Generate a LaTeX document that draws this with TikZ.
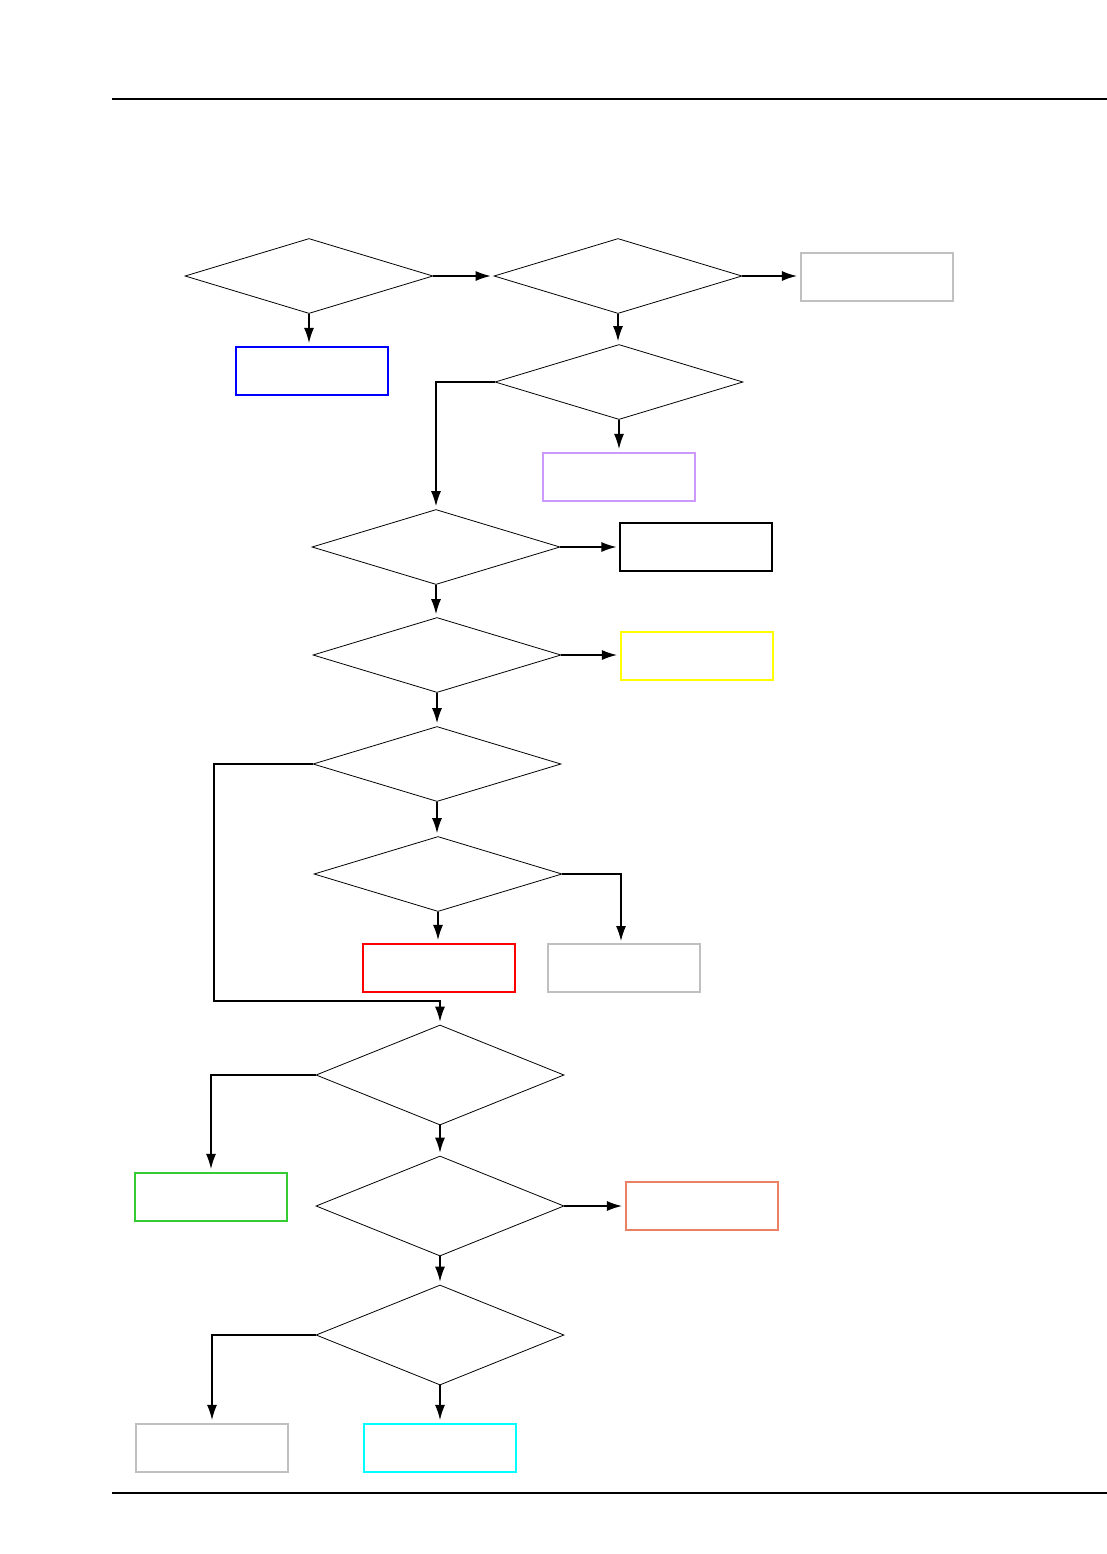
\documentclass[tikz,border=0pt]{standalone}
\usetikzlibrary{shapes.geometric,arrows.meta}
\definecolor{cblue}{RGB}{0,0,255}
\definecolor{cpurple}{RGB}{204,153,255}
\definecolor{cgray}{RGB}{192,192,192}
\definecolor{cyellow}{RGB}{255,255,0}
\definecolor{cred}{RGB}{255,0,0}
\definecolor{cgreen}{RGB}{51,204,51}
\definecolor{csalmon}{RGB}{236,128,100}
\definecolor{ccyan}{RGB}{0,255,255}
\tikzset{
  dia/.style={diamond, draw, line width=0.4pt, inner sep=0pt, minimum width=124pt, minimum height=37.5pt},
  diatall/.style={dia, minimum height=50pt},
  box/.style={rectangle, draw=#1, line width=1.1pt, inner sep=0pt, minimum width=76pt, minimum height=24pt},
  conn/.style={line width=0.6pt, -{Latex[length=7.5pt,width=5pt]}, shorten >=1.5pt},
  rule/.style={line width=0.65pt}
}
\begin{document}
\begin{tikzpicture}[x=0.5pt,y=-0.5pt]
\useasboundingbox (0,0) rectangle (1107,1554);
\coordinate (tl) at (112,99); \coordinate (tr) at (1107,99);
\coordinate (bl) at (112,1493); \coordinate (br) at (1107,1493);
\draw[rule] (tl) -- (tr);
\draw[rule] (bl) -- (br);

\node[dia] (D1) at (309,276) {};
\node[dia] (D2) at (618,276) {};
\node[box=cgray] (G1) at (877,277) {};
\node[box=cblue] (B1) at (312,371) {};
\node[dia] (D3) at (619,382) {};
\node[box=cpurple] (P1) at (619,477) {};
\node[dia] (D4) at (436,547) {};
\node[box=black, line width=0.6pt] (K1) at (696,547) {};
\node[dia] (D5) at (437,655) {};
\node[box=cyellow] (Y1) at (697,656) {};
\node[dia] (D6) at (437,764) {};
\node[dia] (D7) at (438,874) {};
\node[box=cred] (R1) at (439,968) {};
\node[box=cgray] (G2) at (624,968) {};
\coordinate (c1) at (214,1001);
\coordinate (c2) at (621,944);
\node[diatall] (D8) at (440,1075) {};
\node[box=cgreen] (N1) at (211,1197) {};
\node[diatall] (D9) at (440,1206) {};
\node[box=csalmon] (S1) at (702,1206) {};
\node[diatall] (D10) at (440,1335) {};
\node[box=cgray] (G3) at (212,1448) {};
\node[box=ccyan] (C1) at (440,1448) {};

\draw[conn] (D1.east) -- (D2.west);
\draw[conn] (D2.east) -- (D2.east -| G1.west);
\draw[conn] (D1.south) -- (D1.south |- B1.north);
\draw[conn] (D2.south) -- (D2.south |- D3.north);
\draw[conn] (D3.south) -- (P1.north);
\draw[conn] (D3.west) -| (D4.north);
\draw[conn] (D4.east) -- (K1.west);
\draw[conn] (D4.south) -- (D4.south |- D5.north);
\draw[conn] (D5.east) -- (D5.east -| Y1.west);
\draw[conn] (D5.south) -- (D6.north);
\draw[conn] (D6.south) -- (D6.south |- D7.north);
\draw[conn] (D7.south) -- (D7.south |- R1.north);
\draw[conn] (D7.east) -| (c2);
\draw[conn] (D6.west) -| (c1) -| (D8.north);
\draw[conn] (D8.south) -- (D9.north);
\draw[conn] (D8.west) -| (N1.north);
\draw[conn] (D9.east) -- (S1.west);
\draw[conn] (D9.south) -- (D10.north);
\draw[conn] (D10.west) -| (G3.north);
\draw[conn] (D10.south) -- (C1.north);
\end{tikzpicture}
\end{document}
